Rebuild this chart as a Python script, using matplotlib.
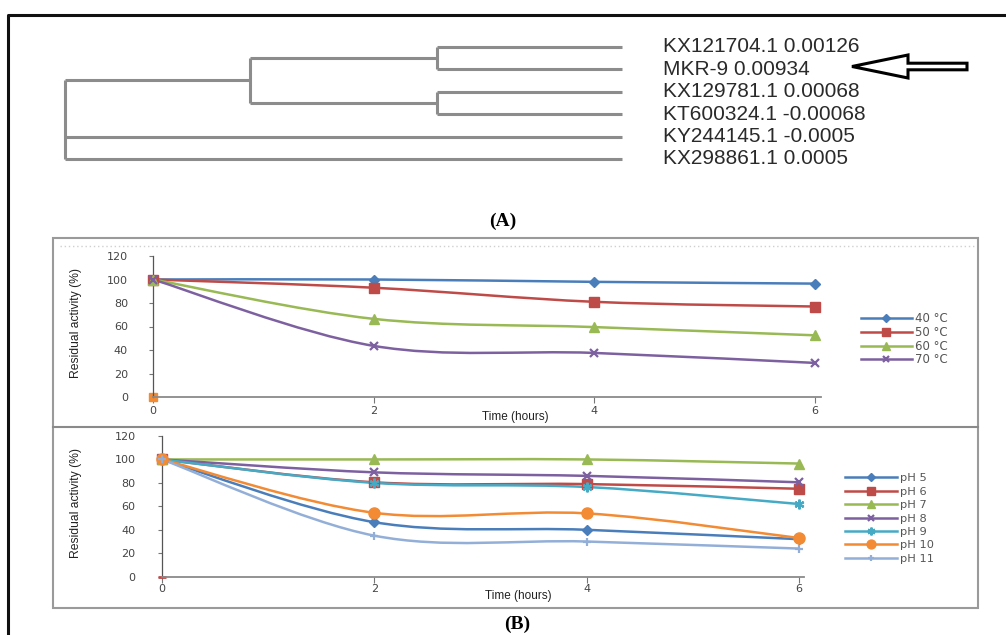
import numpy as np
import matplotlib
matplotlib.use("Agg")
import matplotlib.pyplot as plt
from matplotlib.path import Path
from matplotlib.patches import PathPatch, FancyArrow, Rectangle
from matplotlib.lines import Line2D
from matplotlib.transforms import Affine2D

W, H = 1006, 635

# ---- (A) tree ----
leaves = ["KX121704.1", "MKR-9", "KX129781.1", "KT600324.1", "KY244145.1", "KX298861.1"]
leaf_values = ["0.00126", "0.00934", "0.00068", "-0.00068", "-0.0005", "0.0005"]
# (children, depth): leaves sit at depth 1, root at 0; new nodes get ids 6, 7, ...
merges = [((0, 1), 0.668), ((2, 3), 0.668), ((6, 7), 0.332), ((8, 4, 5), 0.0)]

# ---- (B) stability ----
hours = [0, 2, 4, 6]
temp_labels = ["40 °C", "50 °C", "60 °C", "70 °C"]
temp_40 = [100, 100, 98, 96.5]
temp_50 = [100, 93, 81, 77]
temp_60 = [100, 66.5, 59.5, 52.5]
temp_70 = [100, 43.5, 37.5, 29]
temp_stray = [0]          # lone point at hour 0

ph_labels = ["pH 5", "pH 6", "pH 7", "pH 8", "pH 9", "pH 10", "pH 11"]
ph_5 = [100, 46.5, 40, 32]
ph_6 = [100, 80.5, 79, 75]
ph_7 = [100, 100, 100, 96.5]
ph_8 = [100, 89, 86, 80.5]
ph_9 = [100, 80, 76.5, 62]
ph_10 = [100, 54.5, 54, 33]
ph_11 = [100, 35, 30, 24]
ph_stray = [0]

yticks = [0, 20, 40, 60, 80, 100, 120]

blue, red, green, purple = "#4A7EBB", "#BE4B48", "#98B954", "#7D60A0"
cyan, orange, lblue = "#46AAC5", "#F28B34", "#93AFD8"

temp_styles = [(blue, "D", 5.5), (red, "s", 7), (green, "^", 6.5), (purple, "x", 6)]
ph_styles = [(blue, "D", 5.5), (red, "s", 7.5), (green, "^", 7), (purple, "x", 6),
             (cyan, (6, 2, 0), 7), (orange, "o", 8), (lblue, "+", 6)]


def smooth_path(x, y):
    pts = np.column_stack([x, y]).astype(float)
    ext = np.vstack([pts[0], pts, pts[-1]])
    verts, codes = [pts[0]], [Path.MOVETO]
    for i in range(len(pts) - 1):
        p0, p1, p2, p3 = ext[i], ext[i + 1], ext[i + 2], ext[i + 3]
        verts += [p1 + (p2 - p0) / 6, p2 - (p3 - p1) / 6, p2]
        codes += [Path.CURVE4] * 3
    return Path(verts, codes)


fig = plt.figure(figsize=(W / 100, H / 100), dpi=100)
pix = Affine2D().scale(1 / W, -1 / H).translate(0, 1) + fig.transFigure


def rect(x0, y0, x1, y1):
    return [x0 / W, 1 - y1 / H, (x1 - x0) / W, (y1 - y0) / H]


# outer frame (left + top visible)
fig.add_artist(Line2D([8, 8, 1006], [635, 15, 15], color="#111", lw=2.2, transform=pix))

# ---- dendrogram ----
axt = fig.add_axes(rect(65, 46.7, 622, 159))
axt.set_xlim(0, 1)
axt.set_ylim(len(leaves) - 1, 0)
axt.axis("off")
node_x = [1.0] * len(leaves)
node_y = list(range(len(leaves)))
tree_kw = dict(color="#8c8c8c", lw=2.2, solid_capstyle="butt", clip_on=False)
for children, depth in merges:
    ys = [node_y[c] for c in children]
    axt.plot([depth, depth], [min(ys), max(ys)], **tree_kw)
    for c in children:
        axt.plot([depth, node_x[c]], [node_y[c], node_y[c]], **tree_kw)
    node_x.append(depth)
    node_y.append(np.mean(ys))
for i, (name, val) in enumerate(zip(leaves, leaf_values)):
    axt.annotate(f"{name} {val}", (1, i), xytext=(29.5, 0), textcoords="offset points",
                 va="center", ha="left", fontsize=15, family="Liberation Sans", color="#2a2a2a")

fig.add_artist(FancyArrow(967, 66.5, -115, 0, width=6.6, head_width=23, head_length=56,
                          length_includes_head=True, facecolor="white", edgecolor="black",
                          lw=2.2, transform=pix))
fig.text(503, 221, "(A)", transform=pix, ha="center", va="center", fontsize=14,
         family="Liberation Serif", weight="bold")

# ---- panel B box ----
fig.add_artist(Rectangle((53, 238), 925, 370, fill=False, edgecolor="#9a9a9a", lw=1.5, transform=pix))
fig.add_artist(Line2D([53, 978], [427, 427], color="#8a8a8a", lw=1.5, transform=pix))
fig.add_artist(Line2D([60, 975], [246, 246], color="#d0d0d0", lw=1, ls=(0, (1, 2)), transform=pix))
fig.text(517, 624, "(B)", transform=pix, ha="center", va="center", fontsize=14,
         family="Liberation Serif", weight="bold")


def style_axis(ax, ypad, xpad):
    ax.set_xlim(0, 6)
    ax.set_ylim(0, 120)
    ax.patch.set_alpha(0)
    for s in ["top", "right"]:
        ax.spines[s].set_visible(False)
    ax.spines["left"].set_color("#555")
    ax.spines["left"].set_linewidth(0.9)
    ax.spines["bottom"].set_color("#8a8a8a")
    ax.spines["bottom"].set_linewidth(1.3)
    ax.spines["bottom"].set_bounds(0, 6.05)
    ax.set_xticks(hours)
    ax.set_yticks(yticks)
    ax.tick_params(axis="y", length=3, color="#777", pad=ypad, labelsize=8, labelcolor="#444")
    ax.tick_params(axis="x", length=4, color="#777", pad=xpad, labelsize=8, labelcolor="#444")
    ax.set_ylabel("Residual activity (%)", fontsize=8.7, family="Liberation Sans", color="#222")
    ax.set_xlabel("Time (hours)", fontsize=8.5, family="Liberation Sans", color="#222")


def draw_series(ax, series, styles, labels):
    handles = []
    for vals, (c, m, ms), lab in zip(series, styles, labels):
        ax.add_patch(PathPatch(smooth_path(hours, vals), fill=False, edgecolor=c, lw=1.8,
                               clip_on=False, zorder=2))
        mew = 1.6 if m in ("x", "+") or isinstance(m, tuple) else 1
        ax.plot(hours, vals, ls="none", marker=m, ms=ms, color=c, mec=c, mew=mew,
                clip_on=False, zorder=3)
        handles.append(Line2D([], [], color=c, lw=1.8, marker=m, ms=ms * 0.8, mew=mew))
    return handles


# ---- temperature chart ----
ax1 = fig.add_axes(rect(153, 256, 815, 397))
style_axis(ax1, 15, 2.5)
h1 = draw_series(ax1, [temp_40, temp_50, temp_60, temp_70], temp_styles, temp_labels)
ax1.plot(hours[:1], temp_stray, ls="none", marker="s", ms=6, color=orange, clip_on=False)
ax1.yaxis.set_label_coords(82, 323.5, transform=pix)
ax1.xaxis.set_label_coords(515, 411, transform=pix)
fig.legend(h1, temp_labels, loc="upper left", bbox_to_anchor=(861, 312.5), bbox_transform=pix,
           frameon=False, borderpad=0, borderaxespad=0, handlelength=4.3, handletextpad=0.25,
           labelspacing=0.05, prop=dict(family="DejaVu Sans", size=8.5), labelcolor="#555")

# ---- pH chart ----
ax2 = fig.add_axes(rect(162, 436, 799, 576.7))
style_axis(ax2, 16, 1.5)
h2 = draw_series(ax2, [ph_5, ph_6, ph_7, ph_8, ph_9, ph_10, ph_11], ph_styles, ph_labels)
ax2.plot(hours[:1], ph_stray, ls="none", marker="_", ms=6, mew=2, color=red, clip_on=False)
ax2.yaxis.set_label_coords(82, 502.5, transform=pix)
ax2.xaxis.set_label_coords(518, 589.5, transform=pix)
fig.legend(h2, ph_labels, loc="upper left", bbox_to_anchor=(845, 473.3), bbox_transform=pix,
           frameon=False, borderpad=0, borderaxespad=0, handlelength=4.6, handletextpad=0.25,
           labelspacing=0.3, prop=dict(family="DejaVu Sans", size=8.2), labelcolor="#555")

fig.savefig("out.png", dpi=100)
